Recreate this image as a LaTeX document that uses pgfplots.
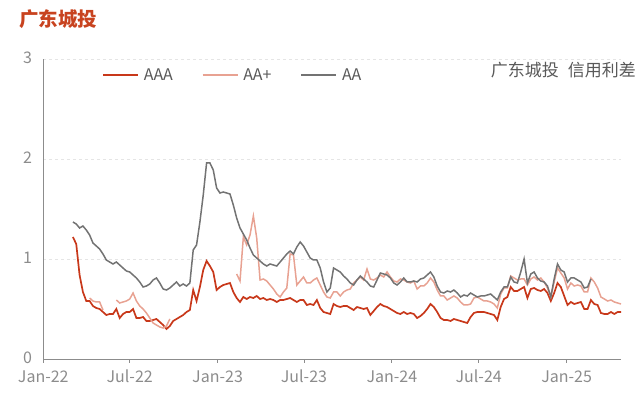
\documentclass[border=0pt]{standalone}
\usepackage{fontspec}
\setmainfont{Noto Sans CJK SC}
\usepackage{pgfplots}
\usepackage{pgfplotstable}
\pgfplotsset{compat=1.18}
\definecolor{cAAA}{HTML}{C8381A}
\definecolor{cAAp}{HTML}{E8A292}
\definecolor{cAA}{HTML}{737373}
\definecolor{ctitle}{HTML}{C8431F}
\definecolor{ctext}{HTML}{595959}
\definecolor{caxis}{HTML}{8C8C8C}
\pgfplotstableread{
d aaa aap aa
62 1.22 nan 1.37
69 1.15 nan 1.35
76 0.84 nan 1.31
83 0.67 nan 1.33
90 0.58 nan 1.29
97 0.58 0.61 1.24
104 0.53 0.58 1.16
111 0.51 0.57 1.13
118 0.50 0.57 1.10
125 0.47 0.49 1.05
132 0.44 nan 0.99
139 0.45 nan 0.97
146 0.45 nan 0.95
153 0.50 0.59 0.97
160 0.41 0.56 0.94
167 0.45 0.57 0.91
174 0.47 0.58 0.88
181 0.47 0.60 0.87
188 0.50 0.66 0.84
195 0.41 0.58 0.81
202 0.41 0.53 0.77
209 0.42 0.50 0.72
216 0.38 0.46 0.73
223 0.38 0.41 0.75
230 0.39 0.36 0.79
237 0.40 0.34 0.81
244 0.37 0.32 0.76
251 0.34 0.31 0.70
258 0.30 0.33 0.69
265 0.33 0.40 0.71
272 0.38 nan 0.74
279 0.40 nan 0.77
286 0.42 nan 0.73
293 0.44 nan 0.75
300 0.47 nan 0.73
307 0.49 nan 0.76
314 0.69 nan 1.09
321 0.58 nan 1.14
328 0.72 nan 1.37
335 0.89 nan 1.64
342 0.98 nan 1.96
349 0.93 nan 1.96
356 0.87 nan 1.89
363 0.69 nan 1.71
370 0.72 nan 1.66
377 0.74 nan 1.67
384 0.75 nan 1.66
391 0.76 nan 1.65
398 0.67 nan 1.54
405 0.61 0.85 1.41
412 0.57 0.78 1.31
419 0.62 1.22 1.25
426 0.60 1.14 1.19
433 0.62 1.24 1.11
440 0.61 1.43 1.04
447 0.63 1.21 1.01
454 0.60 0.79 0.98
461 0.61 0.80 0.95
468 0.59 0.78 0.93
475 0.60 0.74 0.95
482 0.59 0.70 0.94
489 0.57 0.65 0.93
496 0.59 0.62 0.97
503 0.59 0.67 1.01
510 0.60 0.71 1.05
517 0.61 1.05 1.08
524 0.59 1.04 1.05
531 0.57 0.74 1.12
538 0.59 0.78 1.17
545 0.59 0.82 1.13
552 0.54 0.76 1.07
559 0.55 0.76 1.01
566 0.54 0.79 0.99
573 0.59 0.81 0.99
580 0.51 0.74 0.91
587 0.47 0.67 0.77
594 0.46 0.62 0.67
601 0.45 0.61 0.71
608 0.55 0.67 0.91
615 0.53 0.67 0.89
622 0.52 0.63 0.87
629 0.53 0.67 0.83
636 0.53 0.69 0.80
643 0.51 0.70 0.76
650 0.49 0.76 0.74
657 0.52 0.79 0.79
664 0.51 0.82 0.83
671 0.50 0.79 0.80
678 0.51 0.90 0.77
685 0.44 0.80 0.73
692 0.48 0.79 0.72
699 0.52 0.81 0.79
706 0.55 0.84 0.86
713 0.53 0.82 0.85
720 0.52 0.87 0.84
727 0.50 0.82 0.81
734 0.48 0.78 0.76
741 0.46 0.77 0.74
748 0.45 0.80 0.77
755 0.47 0.79 0.81
762 0.45 0.77 0.77
769 0.46 0.76 0.77
776 0.45 0.78 0.78
783 0.41 0.70 0.77
790 0.43 0.73 0.80
797 0.46 0.73 0.81
804 0.50 0.76 0.84
811 0.55 0.81 0.87
818 0.52 0.77 0.82
825 0.47 0.69 0.73
832 0.41 0.63 0.67
839 0.39 0.63 0.66
846 0.39 0.59 0.68
853 0.38 0.61 0.67
860 0.40 0.63 0.69
867 0.39 0.61 0.66
874 0.38 0.57 0.62
881 0.37 0.54 0.64
888 0.36 0.54 0.63
895 0.42 0.55 0.66
902 0.46 0.61 0.64
909 0.47 0.62 0.62
916 0.47 0.60 0.63
923 0.47 0.58 0.63
930 0.46 0.58 0.64
937 0.45 0.57 0.65
944 0.44 0.55 0.62
951 0.39 0.51 0.59
958 0.52 0.65 0.67
965 0.60 0.71 0.72
972 0.62 0.71 0.72
979 0.72 0.83 0.82
986 0.68 0.81 0.77
993 0.68 0.79 0.76
1000 0.70 0.80 0.87
1007 0.72 0.80 1.00
1014 0.61 0.74 0.76
1021 0.70 0.80 0.85
1028 0.71 0.82 0.87
1035 0.69 0.79 0.81
1042 0.68 0.81 0.78
1049 0.70 0.77 0.77
1056 0.66 0.71 0.73
1063 0.58 0.62 0.62
1070 0.66 0.77 0.80
1077 0.76 0.91 0.95
1084 0.72 0.86 0.89
1091 0.63 0.81 0.87
1098 0.54 0.70 0.77
1105 0.57 0.76 0.81
1112 0.55 0.73 0.81
1119 0.56 0.74 0.79
1126 0.57 0.73 0.77
1133 0.50 0.67 0.71
1140 0.50 0.67 0.72
1147 0.59 0.81 0.80
1154 0.55 0.77 nan
1161 0.54 0.71 nan
1168 0.46 0.62 nan
1175 0.45 0.60 nan
1182 0.45 0.58 nan
1189 0.47 0.59 nan
1196 0.45 0.57 nan
1203 0.47 0.56 nan
1210 0.47 0.55 nan
}\spread
\begin{document}
\begin{tikzpicture}[x=1pt,y=1pt]
\path[use as bounding box] (0,0) rectangle (640,399);
\node[anchor=west, inner sep=0pt, font=\fontsize{19.5}{19.5}\selectfont\bfseries, text=ctitle] at (19,380) {广东城投};
\node[anchor=east, inner sep=0pt, font=\fontsize{17}{17}\selectfont, text=ctext] at (636,329) {广东城投\hspace{5pt} 信用利差};
\begin{axis}[
  at={(43.3pt,40pt)}, anchor=south west,
  scale only axis, width=577.7pt, height=300pt,
  xmin=0, xmax=1210, ymin=0, ymax=3,
  axis x line*=bottom, axis y line*=left,
  axis line style={caxis, line width=0.8pt, -},
  xtick={0,181,365,546,730,912,1096},
  xticklabels={Jan-22,Jul-22,Jan-23,Jul-23,Jan-24,Jul-24,Jan-25},
  ytick={0,1,2,3},
  ymajorgrids,
  grid style={dashed, color=black!10, line width=0.7pt},
  tick align=outside, major tick length=4pt,
  xtick style={caxis, line width=0.8pt},
  ytick style={draw=none},
  /pgf/number format/assume math mode=true,
  ticklabel style={font=\fontsize{16}{16}\selectfont, text=caxis, inner sep=1pt},
  xticklabel style={yshift=-6pt, text height=12pt, text depth=1pt},
  yticklabel style={xshift=-6pt, yshift=1pt, text height=12pt, text depth=0pt},
  unbounded coords=jump,
  legend columns=3,
  legend style={draw=none, fill=none, at={(0.1016,0.947)}, anchor=west, inner sep=0pt,
    font=\fontsize{16}{16}\selectfont, text=ctext,
    /tikz/every odd column/.append style={column sep=3pt},
    /tikz/every even column/.append style={column sep=27pt}},
  legend image code/.code={\draw[#1] (0pt,0pt) -- (35pt,0pt);},
]
\addplot[cAAA, line width=1.7pt] table[x=d, y=aaa] {\spread};
\addlegendentry{AAA}
\addplot[cAAp, line width=1.5pt] table[x=d, y=aap] {\spread};
\addlegendentry{AA+}
\addplot[cAA, line width=1.5pt] table[x=d, y=aa] {\spread};
\addlegendentry{AA}
\end{axis}
\end{tikzpicture}
\end{document}
